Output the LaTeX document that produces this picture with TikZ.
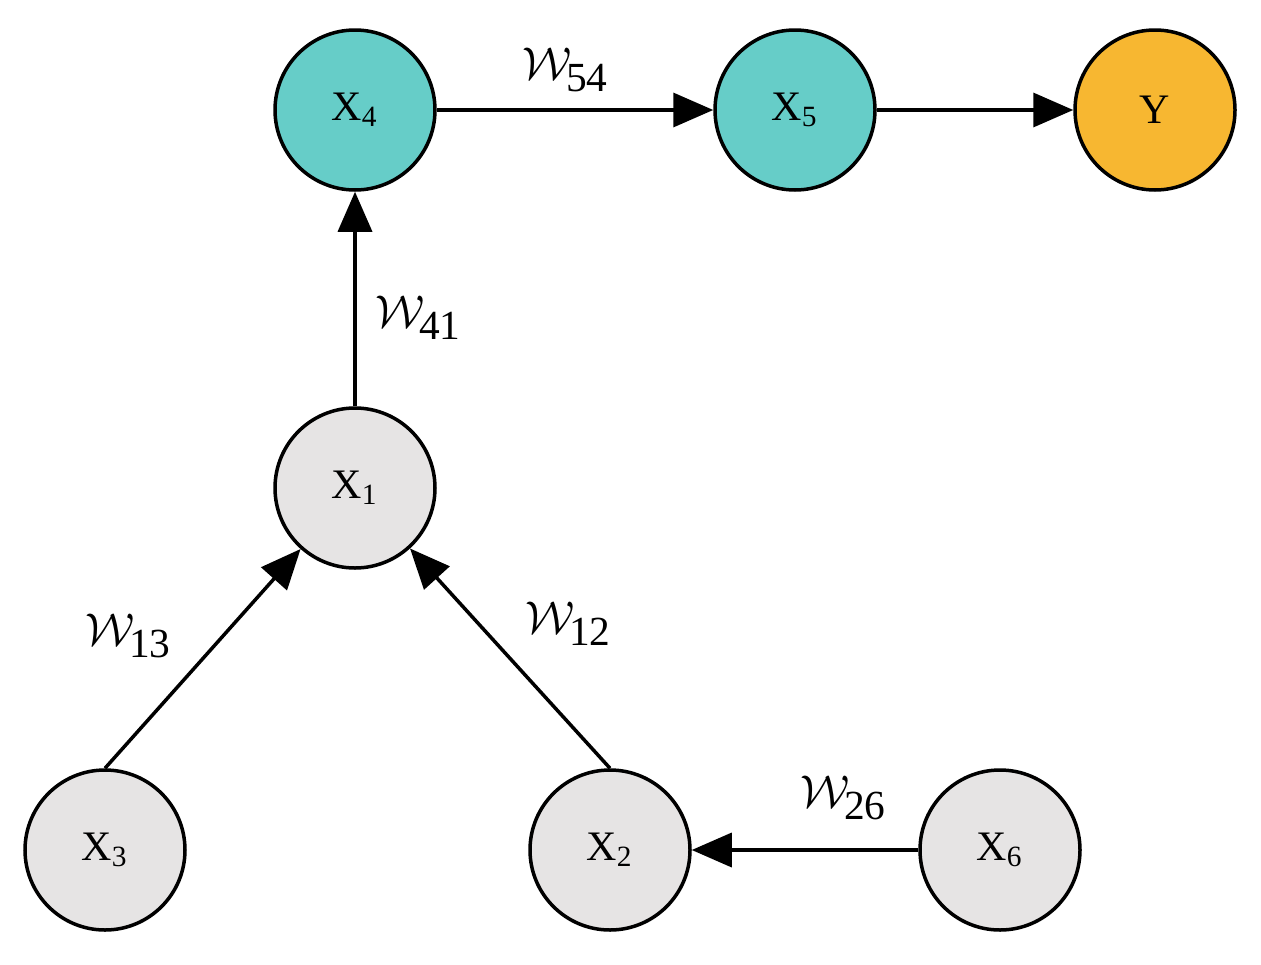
\documentclass[tikz,border=0pt]{standalone}
\usepackage{fontspec}
\setmainfont{Liberation Serif}
\usetikzlibrary{arrows.meta}
\definecolor{teal1}{HTML}{66CDC8}
\definecolor{orng}{HTML}{F7B731}
\definecolor{gry}{HTML}{E6E4E4}
\newcommand{\xs}[1]{\scalebox{4.2}{X\textsubscript{#1}}}
\newcommand{\ws}[1]{\scalebox{4.6}{$\mathcal{W}$\kern-1.2pt\raisebox{-2.6pt}{\small #1}}}
\begin{document}
\begin{tikzpicture}[x=1pt,y=-1pt,
  nd/.style={circle,draw=black,line width=3.5pt,minimum size=160pt,inner sep=0pt},
  ar/.style={line width=3.5pt,-{Triangle[length=40pt,width=34pt]}}]
\useasboundingbox (0,0) rectangle (1261,964);
\node[nd,fill=teal1] (x4) at (355,110) {\xs{4}};
\node[nd,fill=teal1] (x5) at (795,110) {\xs{5}};
\node[nd,fill=orng] (y) at (1155,110) {\scalebox{4.2}{Y}};
\node[nd,fill=gry] (x1) at (355,488) {\xs{1}};
\node[nd,fill=gry] (x3) at (105,850) {\xs{3}};
\node[nd,fill=gry] (x2) at (610,850) {\xs{2}};
\node[nd,fill=gry] (x6) at (1000,850) {\xs{6}};
\draw[ar] (x4) -- (x5);
\draw[ar] (x5) -- (y);
\draw[ar] (x1.north) -- (x4);
\draw[ar] (x3.north) -- (x1);
\draw[ar] (x2.north) -- (x1);
\draw[ar] (x6) -- (x2);
\node (w54) at (565,70) {\ws{54}};
\node (w41) at (418,318) {\ws{41}};
\node (w13) at (128,636) {\ws{13}};
\node (w12) at (568,624) {\ws{12}};
\node (w26) at (843,798) {\ws{26}};
\end{tikzpicture}
\end{document}
